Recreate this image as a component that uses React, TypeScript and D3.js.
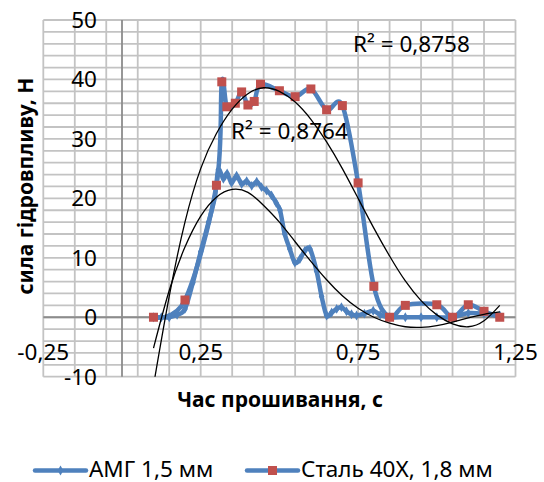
import { useEffect, useRef } from "react";
import * as d3 from "d3";

// АМГ 1,5 мм
const amgTime = [0.1, 0.125, 0.15, 0.175, 0.2, 0.225, 0.25, 0.275, 0.295, 0.306, 0.322, 0.334, 0.348, 0.364, 0.38, 0.396, 0.412, 0.428, 0.443, 0.459, 0.475, 0.49, 0.502, 0.517, 0.533, 0.549, 0.565, 0.581, 0.597, 0.618, 0.634, 0.65, 0.666, 0.682, 0.697, 0.713, 0.729, 0.745, 0.77, 0.798, 0.82, 0.85, 0.9, 0.95, 1.0, 1.05, 1.1, 1.15, 1.2];
const amgForce = [0, 0, 0, 0.4, 1.4, 5.8, 11, 16, 20.2, 24.8, 23.3, 24.2, 22.6, 23.8, 22.4, 22.9, 22.1, 22.8, 21.9, 21.3, 20.5, 19.2, 18, 14, 11.5, 9.2, 9.8, 11.2, 11.5, 7.8, 3.5, 0.3, 0.8, 1.4, 1.7, 1.0, 0.5, 0.3, 0.6, 1.1, 0.4, 0, 0, 0, 0, 0, 0.7, 0.6, 0.3];

// Сталь 40Х, 1,8 мм
const steelTime = [0.1, 0.2, 0.3, 0.317, 0.333, 0.36, 0.38, 0.4, 0.42, 0.44, 0.5, 0.55, 0.6, 0.65, 0.7, 0.75, 0.8, 0.85, 0.9, 1.0, 1.05, 1.1, 1.15, 1.2];
const steelForce = [0, 2.9, 22.2, 39.6, 35.4, 36.0, 37.9, 35.7, 36.3, 39.2, 38.1, 37.1, 38.4, 34.9, 35.6, 22.6, 5.2, 0, 2.0, 2.1, 0, 2.1, 1.0, 0];

// trendlines
const trendTime = [0.1, 0.15, 0.2, 0.25, 0.3, 0.35, 0.4, 0.45, 0.5, 0.55, 0.6, 0.65, 0.7, 0.75, 0.8, 0.85, 0.9, 0.95, 1.0, 1.05, 1.1, 1.15, 1.2];
const trendAmg = [-5.2, 4.5, 11.8, 17.0, 20.2, 21.5, 21.0, 18.8, 16.0, 12.7, 9.4, 6.3, 3.6, 1.5, 0.0, -1.0, -1.6, -1.7, -1.4, -0.8, -0.1, 0.5, 0.9];
const trendSteel = [-11.5, 3.5, 16.0, 25.0, 30.9, 35.0, 37.6, 38.6, 38.0, 36.2, 33.3, 29.5, 25.0, 20.0, 15.0, 10.3, 6.1, 2.8, 0.4, -1.1, -1.6, -0.6, 2.0];
const r2Labels = ["R² = 0,8758", "R² = 0,8764"];

const xTicks = [-0.25, 0.25, 0.75, 1.25];
const yTicks = [-10, 0, 10, 20, 30, 40, 50];
const seriesNames = ["АМГ 1,5 мм", "Сталь 40Х, 1,8 мм"];

const BLUE = "#4f81bd";
const RED = "#c0504d";
const FONT = "'Noto Sans', 'Open Sans', sans-serif";

function App() {
   const ref = useRef<SVGSVGElement>(null);

   useEffect(() => {
      const width = 544;
      const height = 482;
      const plot = { left: 43.3, right: 515.5, top: 20, bottom: 376.7 };

      const svg = d3.select(ref.current).attr("width", width).attr("height", height);
      svg.selectAll("*").remove();

      const x = d3.scaleLinear().domain([-0.25, 1.25]).range([plot.left, plot.right]);
      const y = d3.scaleLinear().domain([-10, 50]).range([plot.bottom, plot.top]);

      svg.append("defs")
         .append("clipPath")
         .attr("id", "plot-clip")
         .append("rect")
         .attr("x", plot.left)
         .attr("y", plot.top)
         .attr("width", plot.right - plot.left)
         .attr("height", plot.bottom - plot.top);

      //gridlines: minor every 0.1 s and every 2 N
      const grid = svg.append("g").attr("stroke", "#c3c3c3").attr("stroke-width", 1.8);
      d3.range(0, 16).forEach((i) => {
         const gx = x(-0.25 + i * 0.1);
         grid.append("line").attr("x1", gx).attr("x2", gx).attr("y1", plot.top).attr("y2", plot.bottom);
      });
      d3.range(-10, 51, 2).forEach((v) => {
         grid.append("line").attr("x1", plot.left).attr("x2", plot.right).attr("y1", y(v)).attr("y2", y(v));
      });

      //axes cross at 0
      svg.append("line")
         .attr("x1", x(0)).attr("x2", x(0))
         .attr("y1", plot.top).attr("y2", plot.bottom)
         .attr("stroke", "#8c8c8c").attr("stroke-width", 1.8);
      svg.append("line")
         .attr("x1", plot.left).attr("x2", plot.right)
         .attr("y1", y(0)).attr("y2", y(0))
         .attr("stroke", "#8c8c8c").attr("stroke-width", 1.8);

      //tick labels
      yTicks.forEach((v) => {
         svg.append("text")
            .attr("x", 97)
            .attr("y", y(v) + 8)
            .attr("text-anchor", "end")
            .attr("font-family", FONT)
            .attr("font-size", "22.5px")
            .attr("fill", "#000")
            .text(String(v));
      });
      xTicks.forEach((v) => {
         svg.append("text")
            .attr("x", x(v))
            .attr("y", 360)
            .attr("text-anchor", "middle")
            .attr("font-family", FONT)
            .attr("font-size", "22.5px")
            .attr("fill", "#000")
            .text(String(v).replace(".", ","));
      });

      //axis titles
      svg.append("text")
         .attr("x", 280)
         .attr("y", 407)
         .attr("text-anchor", "middle")
         .attr("font-family", FONT)
         .attr("font-weight", "bold")
         .attr("font-size", "21px")
         .text("Час прошивання, с");
      svg.append("text")
         .attr("transform", "translate(33,186) rotate(-90)")
         .attr("text-anchor", "middle")
         .attr("font-family", FONT)
         .attr("font-weight", "bold")
         .attr("font-size", "21px")
         .text("сила гідровпливу, Н");

      const smooth = d3.line<[number, number]>()
         .x((d) => x(d[0]))
         .y((d) => y(d[1]))
         .curve(d3.curveCardinal.tension(0));

      const amg: [number, number][] = amgTime.map((t, i) => [t, amgForce[i]]);
      const steel: [number, number][] = steelTime.map((t, i) => [t, steelForce[i]]);

      const series = svg.append("g").attr("clip-path", "url(#plot-clip)");
      series.append("path")
         .attr("d", smooth(amg))
         .attr("fill", "none")
         .attr("stroke", BLUE)
         .attr("stroke-width", 4.5)
         .attr("stroke-linejoin", "round");
      series.selectAll(".amg-dot")
         .data(amg)
         .join("path")
         .attr("class", "amg-dot")
         .attr("transform", (d) => `translate(${x(d[0])},${y(d[1])})`)
         .attr("d", d3.symbol(d3.symbolDiamond, 28)())
         .attr("fill", BLUE);

      series.append("path")
         .attr("d", smooth(steel))
         .attr("fill", "none")
         .attr("stroke", BLUE)
         .attr("stroke-width", 4.5)
         .attr("stroke-linejoin", "round");
      series.selectAll(".steel-dot")
         .data(steel)
         .join("rect")
         .attr("class", "steel-dot")
         .attr("x", (d) => x(d[0]) - 4.5)
         .attr("y", (d) => y(d[1]) - 4.5)
         .attr("width", 9)
         .attr("height", 9)
         .attr("fill", RED);

      //trendlines
      const trend = d3.line<number>()
         .x((d, i) => x(trendTime[i]))
         .y((d) => y(d))
         .curve(d3.curveNatural);
      [trendAmg, trendSteel].forEach((t) => {
         series.append("path")
            .attr("d", trend(t))
            .attr("fill", "none")
            .attr("stroke", "#000")
            .attr("stroke-width", 1.3);
      });

      svg.append("text")
         .attr("x", 353)
         .attr("y", 52)
         .attr("font-family", FONT)
         .attr("font-size", "22.5px")
         .text(r2Labels[0]);
      svg.append("text")
         .attr("x", 231)
         .attr("y", 139)
         .attr("font-family", FONT)
         .attr("font-size", "22.5px")
         .text(r2Labels[1]);

      //legend
      const legendY = 470.5;
      const legend = [
         { x0: 35, name: seriesNames[0], marker: "diamond" },
         { x0: 247, name: seriesNames[1], marker: "square" },
      ];
      legend.forEach((l) => {
         svg.append("line")
            .attr("x1", l.x0).attr("x2", l.x0 + 51)
            .attr("y1", legendY).attr("y2", legendY)
            .attr("stroke", BLUE).attr("stroke-width", 4.5)
            .attr("stroke-linecap", "round");
         if (l.marker === "diamond") {
            svg.append("path")
               .attr("transform", `translate(${l.x0 + 25.5},${legendY})`)
               .attr("d", d3.symbol(d3.symbolDiamond, 28)())
               .attr("fill", BLUE);
         } else {
            svg.append("rect")
               .attr("x", l.x0 + 21).attr("y", legendY - 4.5)
               .attr("width", 9).attr("height", 9)
               .attr("fill", RED);
         }
         svg.append("text")
            .attr("x", l.x0 + 54)
            .attr("y", legendY + 6)
            .attr("font-family", FONT)
            .attr("font-size", "22.5px")
            .text(l.name);
      });
   }, []);

   return (
      <svg ref={ref} style={{ position: "absolute", left: 0, top: 0 }}></svg>
   );
}

export default App;
